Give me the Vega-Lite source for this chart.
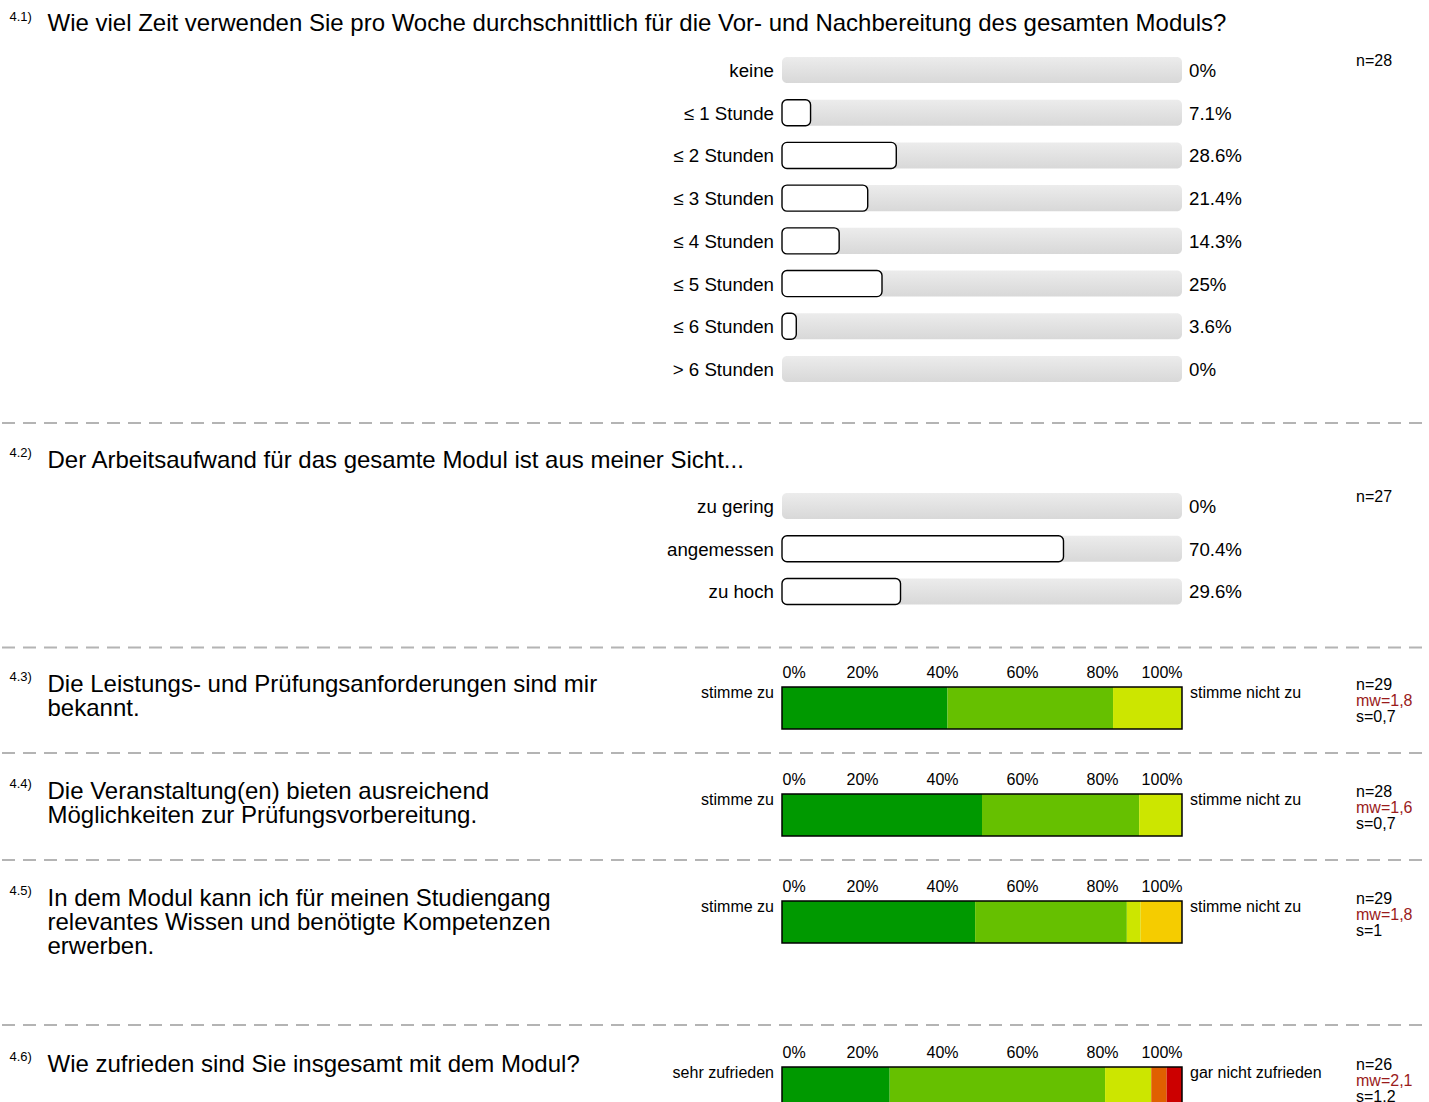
{
  "$schema": "https://vega.github.io/schema/vega-lite/v6.json",
  "padding": {"left": 0, "top": 10, "right": 0, "bottom": 0},
  "spacing": 0,
  "config": {
    "view": {"stroke": null},
    "font": "Liberation Sans",
    "axis": {"grid": false, "domain": false, "ticks": false, "tickSize": 0, "labelColor": "#000000", "titleColor": "#000000", "titleFontWeight": "normal", "titleFont": "Liberation Sans", "labelFont": "Liberation Sans"},
    "text": {"font": "Liberation Sans", "color": "#000000"}
  },
  "datasets": {
    "q41": [
      {"cat": "keine", "pct": 0, "label": "0%"},
      {"cat": "≤ 1 Stunde", "pct": 7.14, "label": "7.1%"},
      {"cat": "≤ 2 Stunden", "pct": 28.57, "label": "28.6%"},
      {"cat": "≤ 3 Stunden", "pct": 21.43, "label": "21.4%"},
      {"cat": "≤ 4 Stunden", "pct": 14.29, "label": "14.3%"},
      {"cat": "≤ 5 Stunden", "pct": 25, "label": "25%"},
      {"cat": "≤ 6 Stunden", "pct": 3.57, "label": "3.6%"},
      {"cat": "> 6 Stunden", "pct": 0, "label": "0%"}
    ],
    "m41": [{"cat": "keine", "n": "n=28"}],
    "q42": [
      {"cat": "zu gering", "pct": 0, "label": "0%"},
      {"cat": "angemessen", "pct": 70.37, "label": "70.4%"},
      {"cat": "zu hoch", "pct": 29.63, "label": "29.6%"}
    ],
    "m42": [{"cat": "zu gering", "n": "n=27"}],
    "s43": [
      {"q": "4.3", "k": "1", "pct": 41.38},
      {"q": "4.3", "k": "2", "pct": 41.38},
      {"q": "4.3", "k": "3", "pct": 17.24}
    ],
    "m43": [{"q": "4.3", "left": "stimme zu", "right": "stimme nicht zu", "n": "n=29", "mw": "mw=1,8", "s": "s=0,7"}],
    "s44": [
      {"q": "4.4", "k": "1", "pct": 50},
      {"q": "4.4", "k": "2", "pct": 39.29},
      {"q": "4.4", "k": "3", "pct": 10.71}
    ],
    "m44": [{"q": "4.4", "left": "stimme zu", "right": "stimme nicht zu", "n": "n=28", "mw": "mw=1,6", "s": "s=0,7"}],
    "s45": [
      {"q": "4.5", "k": "1", "pct": 48.28},
      {"q": "4.5", "k": "2", "pct": 37.93},
      {"q": "4.5", "k": "3", "pct": 3.45},
      {"q": "4.5", "k": "4", "pct": 10.34}
    ],
    "m45": [{"q": "4.5", "left": "stimme zu", "right": "stimme nicht zu", "n": "n=29", "mw": "mw=1,8", "s": "s=1"}],
    "s46": [
      {"q": "4.6", "k": "1", "pct": 26.92},
      {"q": "4.6", "k": "2", "pct": 53.85},
      {"q": "4.6", "k": "3", "pct": 11.54},
      {"q": "4.6", "k": "5", "pct": 3.85},
      {"q": "4.6", "k": "6", "pct": 3.85}
    ],
    "m46": [{"q": "4.6", "left": "sehr zufrieden", "right": "gar nicht zufrieden", "n": "n=26", "mw": "mw=2,1", "s": "s=1,2"}],
    "sep": [{"line": "separator"}]
  },
  "vconcat": [
    {
      "width": 1429, "height": 325,
      "encoding": {
        "y": {"field": "cat", "type": "nominal", "sort": null,
          "scale": {"domain": ["keine", "≤ 1 Stunde", "≤ 2 Stunden", "≤ 3 Stunden", "≤ 4 Stunden", "≤ 5 Stunden", "≤ 6 Stunden", "> 6 Stunden"], "paddingInner": 0.39, "paddingOuter": 0},
          "axis": {"labels": false, "title": "4.1)", "titleAngle": 0, "titleX": 8, "titleY": -36.5, "titleAlign": "left", "titleBaseline": "alphabetic", "titleFontSize": 13}}
      },
      "layer": [
        {"data": {"name": "q41"},
         "mark": {"type": "bar", "cornerRadius": 5, "color": {"gradient": "linear", "x1": 0, "y1": 0, "x2": 0, "y2": 1, "stops": [{"offset": 0, "color": "#ececec"}, {"offset": 1, "color": "#d8d8d8"}]}},
         "encoding": {
           "x": {"datum": 0, "type": "quantitative", "scale": {"domain": [0, 100], "range": [781, 1181]},
             "axis": {"orient": "top", "labels": false, "title": "Wie viel Zeit verwenden Sie pro Woche durchschnittlich für die Vor- und Nachbereitung des gesamten Moduls?", "titleX": 46, "titleY": -26.5, "titleAlign": "left", "titleAnchor": "start", "titleBaseline": "alphabetic", "titleFontSize": 24, "titleAngle": 0}},
           "x2": {"datum": 100}}},
        {"data": {"name": "q41"}, "transform": [{"filter": "datum.pct > 0"}],
         "mark": {"type": "bar", "cornerRadius": 5, "fill": "#ffffff", "stroke": "#000000", "strokeWidth": 1.4},
         "encoding": {
           "x": {"field": "pct", "type": "quantitative", "scale": {"domain": [0, 100], "range": [781, 1181]},
             "axis": {"orient": "top", "labels": false, "title": "Wie viel Zeit verwenden Sie pro Woche durchschnittlich für die Vor- und Nachbereitung des gesamten Moduls?", "titleX": 46, "titleY": -26.5, "titleAlign": "left", "titleAnchor": "start", "titleBaseline": "alphabetic", "titleFontSize": 24, "titleAngle": 0}},
           "x2": {"datum": 0}}},
        {"data": {"name": "q41"},
         "mark": {"type": "text", "align": "right", "baseline": "middle", "dx": -8, "dy": 1, "fontSize": 18.7},
         "encoding": {"x": {"datum": 0, "type": "quantitative", "scale": {"domain": [0, 100], "range": [781, 1181]},
             "axis": {"orient": "top", "labels": false, "title": "Wie viel Zeit verwenden Sie pro Woche durchschnittlich für die Vor- und Nachbereitung des gesamten Moduls?", "titleX": 46, "titleY": -26.5, "titleAlign": "left", "titleAnchor": "start", "titleBaseline": "alphabetic", "titleFontSize": 24, "titleAngle": 0}},
           "text": {"field": "cat"}}},
        {"data": {"name": "q41"},
         "mark": {"type": "text", "align": "left", "baseline": "middle", "dx": 7, "dy": 1, "fontSize": 18.7},
         "encoding": {"x": {"datum": 100, "type": "quantitative", "scale": {"domain": [0, 100], "range": [781, 1181]},
             "axis": {"orient": "top", "labels": false, "title": "Wie viel Zeit verwenden Sie pro Woche durchschnittlich für die Vor- und Nachbereitung des gesamten Moduls?", "titleX": 46, "titleY": -26.5, "titleAlign": "left", "titleAnchor": "start", "titleBaseline": "alphabetic", "titleFontSize": 24, "titleAngle": 0}},
           "text": {"field": "label"}}},
        {"data": {"name": "m41"},
         "mark": {"type": "text", "align": "left", "baseline": "middle", "dx": 174, "dy": -9, "fontSize": 16},
         "encoding": {"x": {"datum": 100, "type": "quantitative", "scale": {"domain": [0, 100], "range": [781, 1181]},
             "axis": {"orient": "top", "labels": false, "title": "Wie viel Zeit verwenden Sie pro Woche durchschnittlich für die Vor- und Nachbereitung des gesamten Moduls?", "titleX": 46, "titleY": -26.5, "titleAlign": "left", "titleAnchor": "start", "titleBaseline": "alphabetic", "titleFontSize": 24, "titleAngle": 0}},
           "text": {"field": "n"}}}
      ]
    },
    {
      "spacing": 22,
      "vconcat": [
        {"width": 1429, "height": 41, "data": {"name": "sep"},
         "mark": {"type": "rule", "color": "#b4b4b4", "strokeWidth": 2, "strokeDash": [13, 8], "strokeDashOffset": 13},
         "encoding": {"y": {"datum": 0, "type": "quantitative", "scale": {"domain": [0, 1]}, "axis": null}}},
        {
          "width": 1429, "height": 111.5,
          "encoding": {
            "y": {"field": "cat", "type": "nominal", "sort": null,
              "scale": {"domain": ["zu gering", "angemessen", "zu hoch"], "paddingInner": 0.39, "paddingOuter": 0},
              "axis": {"labels": false, "title": "4.2)", "titleAngle": 0, "titleX": 8, "titleY": -36.5, "titleAlign": "left", "titleBaseline": "alphabetic", "titleFontSize": 13}}
          },
          "layer": [
            {"data": {"name": "q42"},
             "mark": {"type": "bar", "cornerRadius": 5, "color": {"gradient": "linear", "x1": 0, "y1": 0, "x2": 0, "y2": 1, "stops": [{"offset": 0, "color": "#ececec"}, {"offset": 1, "color": "#d8d8d8"}]}},
             "encoding": {
               "x": {"datum": 0, "type": "quantitative", "scale": {"domain": [0, 100], "range": [781, 1181]},
                 "axis": {"orient": "top", "labels": false, "title": "Der Arbeitsaufwand für das gesamte Modul ist aus meiner Sicht...", "titleX": 46, "titleY": -26, "titleAlign": "left", "titleAnchor": "start", "titleBaseline": "alphabetic", "titleFontSize": 24, "titleAngle": 0}},
               "x2": {"datum": 100}}},
            {"data": {"name": "q42"}, "transform": [{"filter": "datum.pct > 0"}],
             "mark": {"type": "bar", "cornerRadius": 5, "fill": "#ffffff", "stroke": "#000000", "strokeWidth": 1.4},
             "encoding": {
               "x": {"field": "pct", "type": "quantitative", "scale": {"domain": [0, 100], "range": [781, 1181]},
                 "axis": {"orient": "top", "labels": false, "title": "Der Arbeitsaufwand für das gesamte Modul ist aus meiner Sicht...", "titleX": 46, "titleY": -26, "titleAlign": "left", "titleAnchor": "start", "titleBaseline": "alphabetic", "titleFontSize": 24, "titleAngle": 0}},
               "x2": {"datum": 0}}},
            {"data": {"name": "q42"},
             "mark": {"type": "text", "align": "right", "baseline": "middle", "dx": -8, "dy": 1, "fontSize": 18.7},
             "encoding": {"x": {"datum": 0, "type": "quantitative", "scale": {"domain": [0, 100], "range": [781, 1181]},
                 "axis": {"orient": "top", "labels": false, "title": "Der Arbeitsaufwand für das gesamte Modul ist aus meiner Sicht...", "titleX": 46, "titleY": -26, "titleAlign": "left", "titleAnchor": "start", "titleBaseline": "alphabetic", "titleFontSize": 24, "titleAngle": 0}},
               "text": {"field": "cat"}}},
            {"data": {"name": "q42"},
             "mark": {"type": "text", "align": "left", "baseline": "middle", "dx": 7, "dy": 1, "fontSize": 18.7},
             "encoding": {"x": {"datum": 100, "type": "quantitative", "scale": {"domain": [0, 100], "range": [781, 1181]},
                 "axis": {"orient": "top", "labels": false, "title": "Der Arbeitsaufwand für das gesamte Modul ist aus meiner Sicht...", "titleX": 46, "titleY": -26, "titleAlign": "left", "titleAnchor": "start", "titleBaseline": "alphabetic", "titleFontSize": 24, "titleAngle": 0}},
               "text": {"field": "label"}}},
            {"data": {"name": "m42"},
             "mark": {"type": "text", "align": "left", "baseline": "middle", "dx": 174, "dy": -9, "fontSize": 16},
             "encoding": {"x": {"datum": 100, "type": "quantitative", "scale": {"domain": [0, 100], "range": [781, 1181]},
                 "axis": {"orient": "top", "labels": false, "title": "Der Arbeitsaufwand für das gesamte Modul ist aus meiner Sicht...", "titleX": 46, "titleY": -26, "titleAlign": "left", "titleAnchor": "start", "titleBaseline": "alphabetic", "titleFontSize": 24, "titleAngle": 0}},
               "text": {"field": "n"}}}
          ]
        }
      ]
    },
    {
      "spacing": 15,
      "vconcat": [
        {"width": 1429, "height": 41.5, "data": {"name": "sep"},
         "mark": {"type": "rule", "color": "#b4b4b4", "strokeWidth": 2, "strokeDash": [13, 8], "strokeDashOffset": 13},
         "encoding": {"y": {"datum": 0, "type": "quantitative", "scale": {"domain": [0, 1]}, "axis": null}}},
        {
          "width": 1429, "height": 42,
          "encoding": {
            "y": {"field": "q", "type": "nominal", "scale": {"paddingInner": 0, "paddingOuter": 0},
              "axis": {"labels": false, "title": "4.3)", "titleAngle": 0, "titleX": 8, "titleY": -6.4, "titleAlign": "left", "titleBaseline": "alphabetic", "titleFontSize": 13}}
          },
          "layer": [
            {"data": {"name": "s43"}, "mark": {"type": "bar"},
             "encoding": {
               "x": {"field": "pct", "type": "quantitative", "stack": "zero", "scale": {"domain": [0, 100], "range": [781, 1181]},
                 "axis": {"orient": "top", "values": [0, 20, 40, 60, 80, 100], "labelExpr": "datum.value + '%'", "labelFlush": true, "labelFontSize": 16, "labelPadding": 7, "title": ["Die Leistungs- und Prüfungsanforderungen sind mir", "bekannt."], "titleX": 46, "titleY": 4, "titleAlign": "left", "titleAnchor": "start", "titleBaseline": "alphabetic", "titleFontSize": 24, "titleLineHeight": 24, "titleAngle": 0}},
               "color": {"field": "k", "type": "nominal", "scale": {"domain": ["1", "2", "3", "4", "5", "6"], "range": ["#009900", "#66c000", "#cce600", "#f5cc00", "#e06000", "#cc0000"]}, "legend": null},
               "order": {"field": "k"}}},
            {"data": {"name": "m43"}, "mark": {"type": "bar", "fill": "transparent", "stroke": "#000000", "strokeWidth": 1.5},
             "encoding": {"x": {"datum": 0, "type": "quantitative", "scale": {"domain": [0, 100], "range": [781, 1181]},
                 "axis": {"orient": "top", "values": [0, 20, 40, 60, 80, 100], "labelExpr": "datum.value + '%'", "labelFlush": true, "labelFontSize": 16, "labelPadding": 7, "title": ["Die Leistungs- und Prüfungsanforderungen sind mir", "bekannt."], "titleX": 46, "titleY": 4, "titleAlign": "left", "titleAnchor": "start", "titleBaseline": "alphabetic", "titleFontSize": 24, "titleLineHeight": 24, "titleAngle": 0}},
               "x2": {"datum": 100}}},
            {"data": {"name": "m43"}, "mark": {"type": "text", "align": "right", "baseline": "middle", "dx": -8, "dy": -15, "fontSize": 16},
             "encoding": {"x": {"datum": 0, "type": "quantitative", "scale": {"domain": [0, 100], "range": [781, 1181]},
                 "axis": {"orient": "top", "values": [0, 20, 40, 60, 80, 100], "labelExpr": "datum.value + '%'", "labelFlush": true, "labelFontSize": 16, "labelPadding": 7, "title": ["Die Leistungs- und Prüfungsanforderungen sind mir", "bekannt."], "titleX": 46, "titleY": 4, "titleAlign": "left", "titleAnchor": "start", "titleBaseline": "alphabetic", "titleFontSize": 24, "titleLineHeight": 24, "titleAngle": 0}},
               "text": {"field": "left"}}},
            {"data": {"name": "m43"}, "mark": {"type": "text", "align": "left", "baseline": "middle", "dx": 8, "dy": -15, "fontSize": 16},
             "encoding": {"x": {"datum": 100, "type": "quantitative", "scale": {"domain": [0, 100], "range": [781, 1181]},
                 "axis": {"orient": "top", "values": [0, 20, 40, 60, 80, 100], "labelExpr": "datum.value + '%'", "labelFlush": true, "labelFontSize": 16, "labelPadding": 7, "title": ["Die Leistungs- und Prüfungsanforderungen sind mir", "bekannt."], "titleX": 46, "titleY": 4, "titleAlign": "left", "titleAnchor": "start", "titleBaseline": "alphabetic", "titleFontSize": 24, "titleLineHeight": 24, "titleAngle": 0}},
               "text": {"field": "right"}}},
            {"data": {"name": "m43"}, "mark": {"type": "text", "align": "left", "baseline": "middle", "dx": 174, "dy": -23, "fontSize": 16},
             "encoding": {"x": {"datum": 100, "type": "quantitative", "scale": {"domain": [0, 100], "range": [781, 1181]},
                 "axis": {"orient": "top", "values": [0, 20, 40, 60, 80, 100], "labelExpr": "datum.value + '%'", "labelFlush": true, "labelFontSize": 16, "labelPadding": 7, "title": ["Die Leistungs- und Prüfungsanforderungen sind mir", "bekannt."], "titleX": 46, "titleY": 4, "titleAlign": "left", "titleAnchor": "start", "titleBaseline": "alphabetic", "titleFontSize": 24, "titleLineHeight": 24, "titleAngle": 0}},
               "text": {"field": "n"}}},
            {"data": {"name": "m43"}, "mark": {"type": "text", "align": "left", "baseline": "middle", "dx": 174, "dy": -7, "fontSize": 16, "color": "#9a1b1b"},
             "encoding": {"x": {"datum": 100, "type": "quantitative", "scale": {"domain": [0, 100], "range": [781, 1181]},
                 "axis": {"orient": "top", "values": [0, 20, 40, 60, 80, 100], "labelExpr": "datum.value + '%'", "labelFlush": true, "labelFontSize": 16, "labelPadding": 7, "title": ["Die Leistungs- und Prüfungsanforderungen sind mir", "bekannt."], "titleX": 46, "titleY": 4, "titleAlign": "left", "titleAnchor": "start", "titleBaseline": "alphabetic", "titleFontSize": 24, "titleLineHeight": 24, "titleAngle": 0}},
               "text": {"field": "mw"}}},
            {"data": {"name": "m43"}, "mark": {"type": "text", "align": "left", "baseline": "middle", "dx": 174, "dy": 9, "fontSize": 16},
             "encoding": {"x": {"datum": 100, "type": "quantitative", "scale": {"domain": [0, 100], "range": [781, 1181]},
                 "axis": {"orient": "top", "values": [0, 20, 40, 60, 80, 100], "labelExpr": "datum.value + '%'", "labelFlush": true, "labelFontSize": 16, "labelPadding": 7, "title": ["Die Leistungs- und Prüfungsanforderungen sind mir", "bekannt."], "titleX": 46, "titleY": 4, "titleAlign": "left", "titleAnchor": "start", "titleBaseline": "alphabetic", "titleFontSize": 24, "titleLineHeight": 24, "titleAngle": 0}},
               "text": {"field": "s"}}}
          ]
        }
      ]
    },
    {
      "spacing": 17,
      "vconcat": [
        {"width": 1429, "height": 23, "data": {"name": "sep"},
         "mark": {"type": "rule", "color": "#b4b4b4", "strokeWidth": 2, "strokeDash": [13, 8], "strokeDashOffset": 13},
         "encoding": {"y": {"datum": 0, "type": "quantitative", "scale": {"domain": [0, 1]}, "axis": null}}},
        {
          "width": 1429, "height": 42,
          "encoding": {
            "y": {"field": "q", "type": "nominal", "scale": {"paddingInner": 0, "paddingOuter": 0},
              "axis": {"labels": false, "title": "4.4)", "titleAngle": 0, "titleX": 8, "titleY": -6.4, "titleAlign": "left", "titleBaseline": "alphabetic", "titleFontSize": 13}}
          },
          "layer": [
            {"data": {"name": "s44"}, "mark": {"type": "bar"},
             "encoding": {
               "x": {"field": "pct", "type": "quantitative", "stack": "zero", "scale": {"domain": [0, 100], "range": [781, 1181]},
                 "axis": {"orient": "top", "values": [0, 20, 40, 60, 80, 100], "labelExpr": "datum.value + '%'", "labelFlush": true, "labelFontSize": 16, "labelPadding": 7, "title": ["Die Veranstaltung(en) bieten ausreichend", "Möglichkeiten zur Prüfungsvorbereitung."], "titleX": 46, "titleY": 4, "titleAlign": "left", "titleAnchor": "start", "titleBaseline": "alphabetic", "titleFontSize": 24, "titleLineHeight": 24, "titleAngle": 0}},
               "color": {"field": "k", "type": "nominal", "scale": {"domain": ["1", "2", "3", "4", "5", "6"], "range": ["#009900", "#66c000", "#cce600", "#f5cc00", "#e06000", "#cc0000"]}, "legend": null},
               "order": {"field": "k"}}},
            {"data": {"name": "m44"}, "mark": {"type": "bar", "fill": "transparent", "stroke": "#000000", "strokeWidth": 1.5},
             "encoding": {"x": {"datum": 0, "type": "quantitative", "scale": {"domain": [0, 100], "range": [781, 1181]},
                 "axis": {"orient": "top", "values": [0, 20, 40, 60, 80, 100], "labelExpr": "datum.value + '%'", "labelFlush": true, "labelFontSize": 16, "labelPadding": 7, "title": ["Die Veranstaltung(en) bieten ausreichend", "Möglichkeiten zur Prüfungsvorbereitung."], "titleX": 46, "titleY": 4, "titleAlign": "left", "titleAnchor": "start", "titleBaseline": "alphabetic", "titleFontSize": 24, "titleLineHeight": 24, "titleAngle": 0}},
               "x2": {"datum": 100}}},
            {"data": {"name": "m44"}, "mark": {"type": "text", "align": "right", "baseline": "middle", "dx": -8, "dy": -15, "fontSize": 16},
             "encoding": {"x": {"datum": 0, "type": "quantitative", "scale": {"domain": [0, 100], "range": [781, 1181]},
                 "axis": {"orient": "top", "values": [0, 20, 40, 60, 80, 100], "labelExpr": "datum.value + '%'", "labelFlush": true, "labelFontSize": 16, "labelPadding": 7, "title": ["Die Veranstaltung(en) bieten ausreichend", "Möglichkeiten zur Prüfungsvorbereitung."], "titleX": 46, "titleY": 4, "titleAlign": "left", "titleAnchor": "start", "titleBaseline": "alphabetic", "titleFontSize": 24, "titleLineHeight": 24, "titleAngle": 0}},
               "text": {"field": "left"}}},
            {"data": {"name": "m44"}, "mark": {"type": "text", "align": "left", "baseline": "middle", "dx": 8, "dy": -15, "fontSize": 16},
             "encoding": {"x": {"datum": 100, "type": "quantitative", "scale": {"domain": [0, 100], "range": [781, 1181]},
                 "axis": {"orient": "top", "values": [0, 20, 40, 60, 80, 100], "labelExpr": "datum.value + '%'", "labelFlush": true, "labelFontSize": 16, "labelPadding": 7, "title": ["Die Veranstaltung(en) bieten ausreichend", "Möglichkeiten zur Prüfungsvorbereitung."], "titleX": 46, "titleY": 4, "titleAlign": "left", "titleAnchor": "start", "titleBaseline": "alphabetic", "titleFontSize": 24, "titleLineHeight": 24, "titleAngle": 0}},
               "text": {"field": "right"}}},
            {"data": {"name": "m44"}, "mark": {"type": "text", "align": "left", "baseline": "middle", "dx": 174, "dy": -23, "fontSize": 16},
             "encoding": {"x": {"datum": 100, "type": "quantitative", "scale": {"domain": [0, 100], "range": [781, 1181]},
                 "axis": {"orient": "top", "values": [0, 20, 40, 60, 80, 100], "labelExpr": "datum.value + '%'", "labelFlush": true, "labelFontSize": 16, "labelPadding": 7, "title": ["Die Veranstaltung(en) bieten ausreichend", "Möglichkeiten zur Prüfungsvorbereitung."], "titleX": 46, "titleY": 4, "titleAlign": "left", "titleAnchor": "start", "titleBaseline": "alphabetic", "titleFontSize": 24, "titleLineHeight": 24, "titleAngle": 0}},
               "text": {"field": "n"}}},
            {"data": {"name": "m44"}, "mark": {"type": "text", "align": "left", "baseline": "middle", "dx": 174, "dy": -7, "fontSize": 16, "color": "#9a1b1b"},
             "encoding": {"x": {"datum": 100, "type": "quantitative", "scale": {"domain": [0, 100], "range": [781, 1181]},
                 "axis": {"orient": "top", "values": [0, 20, 40, 60, 80, 100], "labelExpr": "datum.value + '%'", "labelFlush": true, "labelFontSize": 16, "labelPadding": 7, "title": ["Die Veranstaltung(en) bieten ausreichend", "Möglichkeiten zur Prüfungsvorbereitung."], "titleX": 46, "titleY": 4, "titleAlign": "left", "titleAnchor": "start", "titleBaseline": "alphabetic", "titleFontSize": 24, "titleLineHeight": 24, "titleAngle": 0}},
               "text": {"field": "mw"}}},
            {"data": {"name": "m44"}, "mark": {"type": "text", "align": "left", "baseline": "middle", "dx": 174, "dy": 9, "fontSize": 16},
             "encoding": {"x": {"datum": 100, "type": "quantitative", "scale": {"domain": [0, 100], "range": [781, 1181]},
                 "axis": {"orient": "top", "values": [0, 20, 40, 60, 80, 100], "labelExpr": "datum.value + '%'", "labelFlush": true, "labelFontSize": 16, "labelPadding": 7, "title": ["Die Veranstaltung(en) bieten ausreichend", "Möglichkeiten zur Prüfungsvorbereitung."], "titleX": 46, "titleY": 4, "titleAlign": "left", "titleAnchor": "start", "titleBaseline": "alphabetic", "titleFontSize": 24, "titleLineHeight": 24, "titleAngle": 0}},
               "text": {"field": "s"}}}
          ]
        }
      ]
    },
    {
      "spacing": 17,
      "vconcat": [
        {"width": 1429, "height": 23, "data": {"name": "sep"},
         "mark": {"type": "rule", "color": "#b4b4b4", "strokeWidth": 2, "strokeDash": [13, 8], "strokeDashOffset": 13},
         "encoding": {"y": {"datum": 0, "type": "quantitative", "scale": {"domain": [0, 1]}, "axis": null}}},
        {
          "width": 1429, "height": 42,
          "encoding": {
            "y": {"field": "q", "type": "nominal", "scale": {"paddingInner": 0, "paddingOuter": 0},
              "axis": {"labels": false, "title": "4.5)", "titleAngle": 0, "titleX": 8, "titleY": -6.4, "titleAlign": "left", "titleBaseline": "alphabetic", "titleFontSize": 13}}
          },
          "layer": [
            {"data": {"name": "s45"}, "mark": {"type": "bar"},
             "encoding": {
               "x": {"field": "pct", "type": "quantitative", "stack": "zero", "scale": {"domain": [0, 100], "range": [781, 1181]},
                 "axis": {"orient": "top", "values": [0, 20, 40, 60, 80, 100], "labelExpr": "datum.value + '%'", "labelFlush": true, "labelFontSize": 16, "labelPadding": 7, "title": ["In dem Modul kann ich für meinen Studiengang", "relevantes Wissen und benötigte Kompetenzen", "erwerben."], "titleX": 46, "titleY": 4, "titleAlign": "left", "titleAnchor": "start", "titleBaseline": "alphabetic", "titleFontSize": 24, "titleLineHeight": 24, "titleAngle": 0}},
               "color": {"field": "k", "type": "nominal", "scale": {"domain": ["1", "2", "3", "4", "5", "6"], "range": ["#009900", "#66c000", "#cce600", "#f5cc00", "#e06000", "#cc0000"]}, "legend": null},
               "order": {"field": "k"}}},
            {"data": {"name": "m45"}, "mark": {"type": "bar", "fill": "transparent", "stroke": "#000000", "strokeWidth": 1.5},
             "encoding": {"x": {"datum": 0, "type": "quantitative", "scale": {"domain": [0, 100], "range": [781, 1181]},
                 "axis": {"orient": "top", "values": [0, 20, 40, 60, 80, 100], "labelExpr": "datum.value + '%'", "labelFlush": true, "labelFontSize": 16, "labelPadding": 7, "title": ["In dem Modul kann ich für meinen Studiengang", "relevantes Wissen und benötigte Kompetenzen", "erwerben."], "titleX": 46, "titleY": 4, "titleAlign": "left", "titleAnchor": "start", "titleBaseline": "alphabetic", "titleFontSize": 24, "titleLineHeight": 24, "titleAngle": 0}},
               "x2": {"datum": 100}}},
            {"data": {"name": "m45"}, "mark": {"type": "text", "align": "right", "baseline": "middle", "dx": -8, "dy": -15, "fontSize": 16},
             "encoding": {"x": {"datum": 0, "type": "quantitative", "scale": {"domain": [0, 100], "range": [781, 1181]},
                 "axis": {"orient": "top", "values": [0, 20, 40, 60, 80, 100], "labelExpr": "datum.value + '%'", "labelFlush": true, "labelFontSize": 16, "labelPadding": 7, "title": ["In dem Modul kann ich für meinen Studiengang", "relevantes Wissen und benötigte Kompetenzen", "erwerben."], "titleX": 46, "titleY": 4, "titleAlign": "left", "titleAnchor": "start", "titleBaseline": "alphabetic", "titleFontSize": 24, "titleLineHeight": 24, "titleAngle": 0}},
               "text": {"field": "left"}}},
            {"data": {"name": "m45"}, "mark": {"type": "text", "align": "left", "baseline": "middle", "dx": 8, "dy": -15, "fontSize": 16},
             "encoding": {"x": {"datum": 100, "type": "quantitative", "scale": {"domain": [0, 100], "range": [781, 1181]},
                 "axis": {"orient": "top", "values": [0, 20, 40, 60, 80, 100], "labelExpr": "datum.value + '%'", "labelFlush": true, "labelFontSize": 16, "labelPadding": 7, "title": ["In dem Modul kann ich für meinen Studiengang", "relevantes Wissen und benötigte Kompetenzen", "erwerben."], "titleX": 46, "titleY": 4, "titleAlign": "left", "titleAnchor": "start", "titleBaseline": "alphabetic", "titleFontSize": 24, "titleLineHeight": 24, "titleAngle": 0}},
               "text": {"field": "right"}}},
            {"data": {"name": "m45"}, "mark": {"type": "text", "align": "left", "baseline": "middle", "dx": 174, "dy": -23, "fontSize": 16},
             "encoding": {"x": {"datum": 100, "type": "quantitative", "scale": {"domain": [0, 100], "range": [781, 1181]},
                 "axis": {"orient": "top", "values": [0, 20, 40, 60, 80, 100], "labelExpr": "datum.value + '%'", "labelFlush": true, "labelFontSize": 16, "labelPadding": 7, "title": ["In dem Modul kann ich für meinen Studiengang", "relevantes Wissen und benötigte Kompetenzen", "erwerben."], "titleX": 46, "titleY": 4, "titleAlign": "left", "titleAnchor": "start", "titleBaseline": "alphabetic", "titleFontSize": 24, "titleLineHeight": 24, "titleAngle": 0}},
               "text": {"field": "n"}}},
            {"data": {"name": "m45"}, "mark": {"type": "text", "align": "left", "baseline": "middle", "dx": 174, "dy": -7, "fontSize": 16, "color": "#9a1b1b"},
             "encoding": {"x": {"datum": 100, "type": "quantitative", "scale": {"domain": [0, 100], "range": [781, 1181]},
                 "axis": {"orient": "top", "values": [0, 20, 40, 60, 80, 100], "labelExpr": "datum.value + '%'", "labelFlush": true, "labelFontSize": 16, "labelPadding": 7, "title": ["In dem Modul kann ich für meinen Studiengang", "relevantes Wissen und benötigte Kompetenzen", "erwerben."], "titleX": 46, "titleY": 4, "titleAlign": "left", "titleAnchor": "start", "titleBaseline": "alphabetic", "titleFontSize": 24, "titleLineHeight": 24, "titleAngle": 0}},
               "text": {"field": "mw"}}},
            {"data": {"name": "m45"}, "mark": {"type": "text", "align": "left", "baseline": "middle", "dx": 174, "dy": 9, "fontSize": 16},
             "encoding": {"x": {"datum": 100, "type": "quantitative", "scale": {"domain": [0, 100], "range": [781, 1181]},
                 "axis": {"orient": "top", "values": [0, 20, 40, 60, 80, 100], "labelExpr": "datum.value + '%'", "labelFlush": true, "labelFontSize": 16, "labelPadding": 7, "title": ["In dem Modul kann ich für meinen Studiengang", "relevantes Wissen und benötigte Kompetenzen", "erwerben."], "titleX": 46, "titleY": 4, "titleAlign": "left", "titleAnchor": "start", "titleBaseline": "alphabetic", "titleFontSize": 24, "titleLineHeight": 24, "titleAngle": 0}},
               "text": {"field": "s"}}}
          ]
        }
      ]
    },
    {
      "spacing": 18,
      "vconcat": [
        {"width": 1429, "height": 67, "data": {"name": "sep"},
         "mark": {"type": "rule", "color": "#b4b4b4", "strokeWidth": 2, "strokeDash": [13, 8], "strokeDashOffset": 13},
         "encoding": {"y": {"datum": 0, "type": "quantitative", "scale": {"domain": [0, 1]}, "axis": null}}},
        {
          "width": 1429, "height": 42,
          "encoding": {
            "y": {"field": "q", "type": "nominal", "scale": {"paddingInner": 0, "paddingOuter": 0},
              "axis": {"labels": false, "title": "4.6)", "titleAngle": 0, "titleX": 8, "titleY": -6.4, "titleAlign": "left", "titleBaseline": "alphabetic", "titleFontSize": 13}}
          },
          "layer": [
            {"data": {"name": "s46"}, "mark": {"type": "bar"},
             "encoding": {
               "x": {"field": "pct", "type": "quantitative", "stack": "zero", "scale": {"domain": [0, 100], "range": [781, 1181]},
                 "axis": {"orient": "top", "values": [0, 20, 40, 60, 80, 100], "labelExpr": "datum.value + '%'", "labelFlush": true, "labelFontSize": 16, "labelPadding": 7, "title": "Wie zufrieden sind Sie insgesamt mit dem Modul?", "titleX": 46, "titleY": 4, "titleAlign": "left", "titleAnchor": "start", "titleBaseline": "alphabetic", "titleFontSize": 24, "titleLineHeight": 24, "titleAngle": 0}},
               "color": {"field": "k", "type": "nominal", "scale": {"domain": ["1", "2", "3", "4", "5", "6"], "range": ["#009900", "#66c000", "#cce600", "#f5cc00", "#e06000", "#cc0000"]}, "legend": null},
               "order": {"field": "k"}}},
            {"data": {"name": "m46"}, "mark": {"type": "bar", "fill": "transparent", "stroke": "#000000", "strokeWidth": 1.5},
             "encoding": {"x": {"datum": 0, "type": "quantitative", "scale": {"domain": [0, 100], "range": [781, 1181]},
                 "axis": {"orient": "top", "values": [0, 20, 40, 60, 80, 100], "labelExpr": "datum.value + '%'", "labelFlush": true, "labelFontSize": 16, "labelPadding": 7, "title": "Wie zufrieden sind Sie insgesamt mit dem Modul?", "titleX": 46, "titleY": 4, "titleAlign": "left", "titleAnchor": "start", "titleBaseline": "alphabetic", "titleFontSize": 24, "titleLineHeight": 24, "titleAngle": 0}},
               "x2": {"datum": 100}}},
            {"data": {"name": "m46"}, "mark": {"type": "text", "align": "right", "baseline": "middle", "dx": -8, "dy": -15, "fontSize": 16},
             "encoding": {"x": {"datum": 0, "type": "quantitative", "scale": {"domain": [0, 100], "range": [781, 1181]},
                 "axis": {"orient": "top", "values": [0, 20, 40, 60, 80, 100], "labelExpr": "datum.value + '%'", "labelFlush": true, "labelFontSize": 16, "labelPadding": 7, "title": "Wie zufrieden sind Sie insgesamt mit dem Modul?", "titleX": 46, "titleY": 4, "titleAlign": "left", "titleAnchor": "start", "titleBaseline": "alphabetic", "titleFontSize": 24, "titleLineHeight": 24, "titleAngle": 0}},
               "text": {"field": "left"}}},
            {"data": {"name": "m46"}, "mark": {"type": "text", "align": "left", "baseline": "middle", "dx": 8, "dy": -15, "fontSize": 16},
             "encoding": {"x": {"datum": 100, "type": "quantitative", "scale": {"domain": [0, 100], "range": [781, 1181]},
                 "axis": {"orient": "top", "values": [0, 20, 40, 60, 80, 100], "labelExpr": "datum.value + '%'", "labelFlush": true, "labelFontSize": 16, "labelPadding": 7, "title": "Wie zufrieden sind Sie insgesamt mit dem Modul?", "titleX": 46, "titleY": 4, "titleAlign": "left", "titleAnchor": "start", "titleBaseline": "alphabetic", "titleFontSize": 24, "titleLineHeight": 24, "titleAngle": 0}},
               "text": {"field": "right"}}},
            {"data": {"name": "m46"}, "mark": {"type": "text", "align": "left", "baseline": "middle", "dx": 174, "dy": -23, "fontSize": 16},
             "encoding": {"x": {"datum": 100, "type": "quantitative", "scale": {"domain": [0, 100], "range": [781, 1181]},
                 "axis": {"orient": "top", "values": [0, 20, 40, 60, 80, 100], "labelExpr": "datum.value + '%'", "labelFlush": true, "labelFontSize": 16, "labelPadding": 7, "title": "Wie zufrieden sind Sie insgesamt mit dem Modul?", "titleX": 46, "titleY": 4, "titleAlign": "left", "titleAnchor": "start", "titleBaseline": "alphabetic", "titleFontSize": 24, "titleLineHeight": 24, "titleAngle": 0}},
               "text": {"field": "n"}}},
            {"data": {"name": "m46"}, "mark": {"type": "text", "align": "left", "baseline": "middle", "dx": 174, "dy": -7, "fontSize": 16, "color": "#9a1b1b"},
             "encoding": {"x": {"datum": 100, "type": "quantitative", "scale": {"domain": [0, 100], "range": [781, 1181]},
                 "axis": {"orient": "top", "values": [0, 20, 40, 60, 80, 100], "labelExpr": "datum.value + '%'", "labelFlush": true, "labelFontSize": 16, "labelPadding": 7, "title": "Wie zufrieden sind Sie insgesamt mit dem Modul?", "titleX": 46, "titleY": 4, "titleAlign": "left", "titleAnchor": "start", "titleBaseline": "alphabetic", "titleFontSize": 24, "titleLineHeight": 24, "titleAngle": 0}},
               "text": {"field": "mw"}}},
            {"data": {"name": "m46"}, "mark": {"type": "text", "align": "left", "baseline": "middle", "dx": 174, "dy": 9, "fontSize": 16},
             "encoding": {"x": {"datum": 100, "type": "quantitative", "scale": {"domain": [0, 100], "range": [781, 1181]},
                 "axis": {"orient": "top", "values": [0, 20, 40, 60, 80, 100], "labelExpr": "datum.value + '%'", "labelFlush": true, "labelFontSize": 16, "labelPadding": 7, "title": "Wie zufrieden sind Sie insgesamt mit dem Modul?", "titleX": 46, "titleY": 4, "titleAlign": "left", "titleAnchor": "start", "titleBaseline": "alphabetic", "titleFontSize": 24, "titleLineHeight": 24, "titleAngle": 0}},
               "text": {"field": "s"}}}
          ]
        }
      ]
    }
  ]
}
